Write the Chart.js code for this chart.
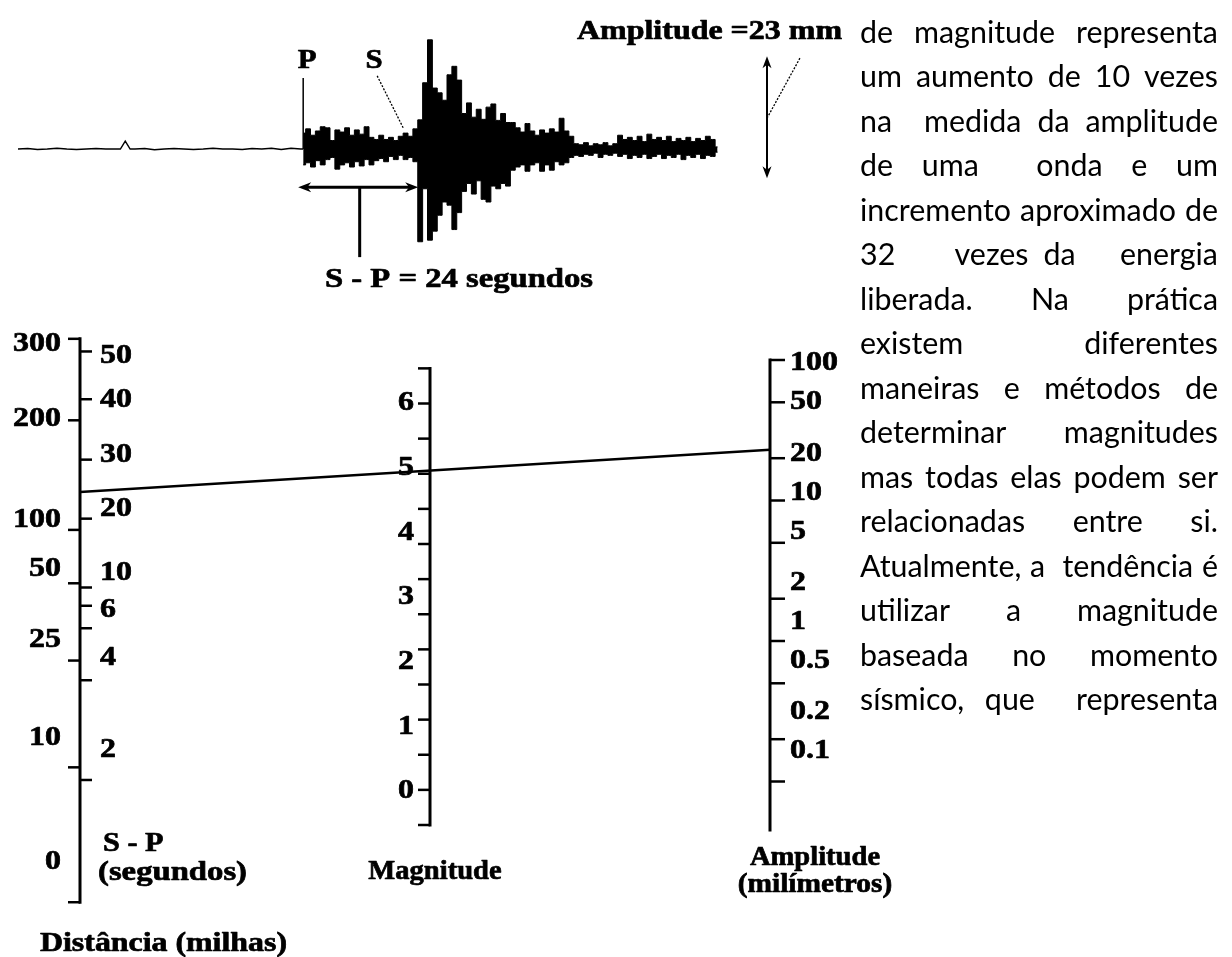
<!DOCTYPE html>
<html>
<head>
<meta charset="utf-8">
<script src="https://cdn.jsdelivr.net/npm/chart.js@4/dist/chart.umd.min.js"></script>
<style>
  html, body { margin: 0; padding: 0; background: #ffffff; }
  #wrap { position: relative; width: 1232px; height: 957px; overflow: hidden; background: #fff; }
  #chart { position: absolute; left: 0; top: 0; }
  #prose { position: absolute; left: 860px; width: 358px; font-family: Lato, "Open Sans", sans-serif; color: #000; }
  #prose .ln { display: flex; justify-content: space-between; white-space: nowrap; }
  #prose .ln span { display: block; }
</style>
</head>
<body>
<div id="wrap">
  <canvas id="chart" width="1232" height="957"></canvas>
  <div id="prose"></div>
</div>
<script>
// ================= DATA =================
// Seismogram: pre-event background trace (seconds from start of record, mm)
const preEventSeconds = [0, 2, 4, 6, 8, 10, 12, 14, 16, 18, 20, 21, 22, 23, 24, 26, 28, 30, 32, 34, 36, 38, 40, 42, 44, 46, 48, 50, 52, 54, 56, 58];
const preEventTraceMM = [0, 0.1, -0.1, 0, 0.15, 0, -0.1, 0, 0.1, 0, 0, 0, 1.5, 0, 0, 0.1, -0.15, 0, 0.1, 0, -0.1, 0, 0.15, 0, 0, -0.1, 0.1, 0, 0.15, -0.1, 0.15, 0];

// Seismogram after the P arrival, one sample per second: upper / lower trace excursion (mm)
const traceUpperMM = [3.0, 3.8, 2.6, 3.4, 4.2, 4.0, 1.6, 3.6, 3.2, 4.0, 2.6, 3.6, 2.8, 4.2, 2.2, 1.8, 2.6, 1.8, 2.2, 1.6,
  2.4, 3.0, 2.4, 3.8, 5.5, 12.5, 20.6, 11.5, 10.6, 9.2, 14.0, 15.6, 13.0, 6.7, 8.7, 6.0, 7.5, 5.6, 7.9, 8.5,
  5.4, 6.7, 5.0, 5.0, 4.0, 3.2, 4.8, 3.4, 2.6, 3.6, 3.0, 3.8, 3.2, 5.8, 3.4, 2.4, 1.0, 0.8, 1.2, 0.6,
  1.0, 0.8, 1.2, 0.6, 1.0, 2.6, 1.8, 2.2, 1.6, 2.4, 1.4, 2.8, 1.8, 2.2, 1.6, 2.4, 1.4, 2.0, 1.6, 2.2,
  1.4, 2.0, 1.6, 2.4, 1.8, 0.4];
const traceLowerMM = [-3.0, -2.6, -3.4, -2.2, -3.0, -2.0, -1.6, -3.8, -3.0, -2.6, -3.4, -2.4, -3.2, -2.0, -3.0, -2.2, -1.8, -2.4, -1.4, -2.0,
  -1.2, -2.0, -1.6, -2.4, -17.5, -7.5, -17.2, -15.5, -12.5, -10.0, -10.6, -15.2, -12.0, -8.0, -6.5, -8.5, -6.0, -9.5, -10.0, -7.0,
  -7.5, -6.5, -7.0, -4.0, -3.4, -3.0, -4.2, -3.0, -2.6, -4.2, -3.0, -4.0, -2.4, -3.0, -2.6, -1.6, -1.2, -1.4, -1.0, -1.2,
  -0.8, -1.6, -1.0, -1.2, -0.8, -1.4, -1.0, -1.8, -1.2, -1.6, -1.0, -1.8, -1.4, -1.0, -1.8, -1.2, -1.6, -1.0, -2.0, -1.2,
  -1.6, -1.0, -1.8, -1.2, -1.4, -0.6];

const pArrivalSeconds = 58.5;
const spIntervalSeconds = 24;
const amplitudeMM = 23;

// Nomogram: left scale (distance in miles and S-P in seconds), position as -log A0
const distanceMiles = [300, 200, 100, 50, 25, 10, 0];
const distanceLogA0 = [4.77, 4.19, 3.41, 3.03, 2.48, 1.72, 0.76];
const spSeconds = [50, 40, 30, 20, 10, 8, 6, 4, 2];
const spLogA0 = [4.68, 4.34, 3.91, 3.49, 3.00, 2.87, 2.71, 2.34, 1.63];
const spLabelledSeconds = [50, 40, 30, 20, 10, 6, 4, 2];

// Magnitude scale
const magnitudeTicks = [0, 0.5, 1, 1.5, 2, 2.5, 3, 3.5, 4, 4.5, 5, 5.5, 6, 6.5];
const magnitudeLabels = [0, 1, 2, 3, 4, 5, 6];

// Amplitude scale (mm, logarithmic)
const amplitudeTicksMM = [100, 50, 20, 10, 5, 2, 1, 0.5, 0.2, 0.1];
const amplitudeAxisRangeMM = [0.044, 100];

// Text column
const proseLines = [
  'de magnitude representa',
  'um aumento de 10 vezes',
  'na  medida da amplitude',
  'de uma  onda e um',
  'incremento aproximado de',
  '32    vezes da   energia',
  'liberada. Na prática',
  'existem diferentes',
  'maneiras e métodos de',
  'determinar magnitudes',
  'mas todas elas podem ser',
  'relacionadas entre si.',
  'Atualmente, a  tendência é',
  'utilizar a magnitude',
  'baseada no momento',
  'sísmico, que  representa'
];

// ================= LAYOUT / STYLE =================
const W = 1232, H = 957;
const INK = '#000000';
const SEIS = { leftPx: 18, pxPerSecond: 4.875, basePx: 149, pxPerMM: 5.3 };
const NOMO = { vZeroPx: 1009, pxPerV: 140.5, mZeroPx: 825, pxPerM: 70.25, aOnePx: 641, pxPerDecade: 140.5 };
const AXIS_X = { left: 80, mag: 430, amp: 770 };
const LABEL_ORIGIN_Y = 400, LABEL_SQUEEZE = 0.92;
const SERIF = '"Liberation Serif", "Times New Roman", serif';

// ================= HELPERS =================
function logInterp(value, values, positions) {
  for (let i = 0; i < values.length - 1; i++) {
    const a = values[i], b = values[i + 1];
    if ((value <= a && value >= b) || (value >= a && value <= b)) {
      const f = (Math.log(value) - Math.log(a)) / (Math.log(b) - Math.log(a));
      return positions[i] + f * (positions[i + 1] - positions[i]);
    }
  }
  return positions[0];
}
function labelY(py) { return LABEL_ORIGIN_Y + LABEL_SQUEEZE * (py - LABEL_ORIGIN_Y); }
function drawText(ctx, str, x, y, o) {
  o = o || {};
  const size = o.size || 28, align = o.align || 'left', stretch = o.stretch || 1.14;
  ctx.save();
  ctx.font = 'bold ' + size + 'px ' + SERIF;
  ctx.textBaseline = 'middle';
  ctx.textAlign = 'left';
  const w = ctx.measureText(str).width;
  const sx = o.width ? o.width / w : stretch;
  const tw = w * sx;
  const left = align === 'left' ? x : (align === 'right' ? x - tw : x - tw / 2);
  ctx.translate(left, y);
  ctx.scale(sx, 1);
  ctx.fillStyle = INK;
  ctx.strokeStyle = INK;
  ctx.lineWidth = 0.7;
  ctx.lineJoin = 'round';
  ctx.fillText(str, 0, 0);
  ctx.strokeText(str, 0, 0);
  ctx.restore();
}
function line(ctx, x1, y1, x2, y2, w, dash) {
  ctx.save();
  ctx.lineWidth = w;
  ctx.strokeStyle = INK;
  if (dash) ctx.setLineDash(dash);
  ctx.beginPath(); ctx.moveTo(x1, y1); ctx.lineTo(x2, y2); ctx.stroke();
  ctx.restore();
}
function arrowHead(ctx, tx, ty, dx, dy, len, half) {
  const nx = -dy, ny = dx;
  ctx.beginPath();
  ctx.moveTo(tx, ty);
  ctx.lineTo(tx - dx * len + nx * half, ty - dy * len + ny * half);
  ctx.lineTo(tx - dx * len * 0.7, ty - dy * len * 0.7);
  ctx.lineTo(tx - dx * len - nx * half, ty - dy * len - ny * half);
  ctx.closePath();
  ctx.fillStyle = INK;
  ctx.fill();
}

// ================= DATASETS =================
const sArrivalSeconds = pArrivalSeconds + spIntervalSeconds;
const traceSeconds = traceUpperMM.map((_, i) => pArrivalSeconds + i);
const preEventPoints = preEventSeconds.map((t, i) => ({ x: t, y: preEventTraceMM[i] }));
preEventPoints.push({ x: pArrivalSeconds, y: 0 });
const upperPoints = traceSeconds.map((t, i) => ({ x: t, y: traceUpperMM[i] }));
const lowerPoints = traceSeconds.map((t, i) => ({ x: t, y: traceLowerMM[i] }));

// ================= ANNOTATION PLUGIN =================
const figurePlugin = {
  id: 'figure',
  afterDatasetsDraw(chart) {
    const ctx = chart.ctx;
    const s = chart.scales;
    const xT = v => s.xT.getPixelForValue(v);
    const yS = v => s.yS.getPixelForValue(v);
    const xN = v => s.xN.getPixelForValue(v);
    const yL = v => s.yL.getPixelForValue(v);
    const yM = v => s.yM.getPixelForValue(v);
    const yA = v => s.yA.getPixelForValue(v);
    ctx.save();

    // ---- seismogram annotations ----
    const xP = xT(pArrivalSeconds), xS = xT(sArrivalSeconds);
    line(ctx, xP, yS(0), xP, yS(13.4), 1.5);
    drawText(ctx, 'P', xP + 4, yS(16.6), { align: 'center', size: 28, stretch: 1.1 });
    drawText(ctx, 'S', xS - 46, yS(16.6), { align: 'center', size: 28, stretch: 1.1 });
    line(ctx, xS - 43, yS(13.8), xS - 17, yS(4.0), 1.3, [2, 1.5]);
    // S-P double arrow
    const yArrow = yS(-7.2);
    const xa1 = xP - 5, xa2 = xS - 2;
    line(ctx, xa1 + 8, yArrow, xa2 - 8, yArrow, 3);
    arrowHead(ctx, xa1, yArrow, -1, 0, 13, 5);
    arrowHead(ctx, xa2, yArrow, 1, 0, 13, 5);
    const xStem = xT((pArrivalSeconds + sArrivalSeconds) / 2) - 2;
    line(ctx, xStem, yArrow, xStem, yS(-20.4), 3);
    drawText(ctx, 'S - P = ' + spIntervalSeconds + ' segundos', 325, 280, { width: 268, size: 28 });
    // amplitude arrow
    const xAmpArrow = 767;
    const ampTop = yS(17.5), ampBot = yS(17.5 - amplitudeMM);
    line(ctx, xAmpArrow, ampTop + 8, xAmpArrow, ampBot - 8, 2);
    arrowHead(ctx, xAmpArrow, ampTop, 0, -1, 12, 4.5);
    arrowHead(ctx, xAmpArrow, ampBot, 0, 1, 12, 4.5);
    line(ctx, xAmpArrow, yS(5.8), 800, 58, 1.3, [2, 1.5]);
    drawText(ctx, 'Amplitude =' + amplitudeMM + ' mm', 577, 32, { width: 265, size: 28 });

    // ---- nomogram: left scale ----
    const xl = xN(AXIS_X.left);
    const lTop = yL(distanceLogA0[0]), lBot = yL(distanceLogA0[distanceLogA0.length - 1]);
    line(ctx, xl, lTop - 1.5, xl, lBot + 1.5, 3);
    distanceMiles.forEach((d, i) => {
      const py = yL(distanceLogA0[i]);
      line(ctx, xl - 12, py, xl, py, 2.5);
      drawText(ctx, String(d), xl - 19, labelY(py), { align: 'right' });
    });
    spSeconds.forEach((sec, i) => {
      const py = yL(spLogA0[i]);
      line(ctx, xl, py, xl + 12, py, 2.5);
      if (spLabelledSeconds.indexOf(sec) >= 0) drawText(ctx, String(sec), xl + 20, labelY(py), { align: 'left' });
    });
    drawText(ctx, 'S - P', xl + 23, 844, { align: 'left', stretch: 1.08 });
    drawText(ctx, '(segundos)', xl + 18, 873, { align: 'left', width: 149 });
    drawText(ctx, 'Distância (milhas)', 40, 944, { align: 'left', width: 247 });

    // ---- magnitude scale ----
    const xm = xN(AXIS_X.mag);
    line(ctx, xm, yM(6.5) - 1.5, xm, yM(0) + 1.5, 3);
    magnitudeTicks.forEach(m => line(ctx, xm - 12, yM(m), xm, yM(m), 2.5));
    magnitudeLabels.forEach(m => drawText(ctx, String(m), xm - 16, labelY(yM(m)), { align: 'right' }));
    drawText(ctx, 'Magnitude', xm + 5, 872, { align: 'center', stretch: 1.02 });

    // ---- amplitude scale ----
    const xa = xN(AXIS_X.amp);
    line(ctx, xa, yA(amplitudeAxisRangeMM[1]) - 1.5, xa, yA(amplitudeAxisRangeMM[0]), 3);
    amplitudeTicksMM.forEach(a => {
      const py = yA(a);
      line(ctx, xa, py, xa + 15, py, 2.5);
      drawText(ctx, String(a), xa + 20, labelY(py), { align: 'left' });
    });
    drawText(ctx, 'Amplitude', xa + 45, 858, { align: 'center', stretch: 1.02 });
    drawText(ctx, '(milímetros)', xa + 45, 885, { align: 'center', stretch: 1.05 });

    // ---- reading line: S-P = 24 s, amplitude = 23 mm ----
    const vReading = logInterp(spIntervalSeconds, spSeconds, spLogA0);
    line(ctx, xl, yL(vReading), xa, yA(amplitudeMM), 2.5);

    ctx.restore();
  }
};

// ================= CHART =================
new Chart(document.getElementById('chart'), {
  type: 'scatter',
  data: {
    datasets: [
      { data: preEventPoints, showLine: true, borderColor: INK, borderWidth: 1.4, pointRadius: 0, xAxisID: 'xT', yAxisID: 'yS', fill: false },
      { data: upperPoints, showLine: true, stepped: 'middle', borderColor: INK, borderWidth: 1, pointRadius: 0, xAxisID: 'xT', yAxisID: 'yS', fill: false },
      { data: lowerPoints, showLine: true, stepped: 'middle', borderColor: INK, borderWidth: 1, pointRadius: 0, xAxisID: 'xT', yAxisID: 'yS', fill: '-1', backgroundColor: INK }
    ]
  },
  options: {
    responsive: false,
    animation: false,
    devicePixelRatio: 1,
    events: [],
    layout: { padding: 0 },
    plugins: { legend: { display: false }, tooltip: { enabled: false }, title: { display: false } },
    scales: {
      xT: { type: 'linear', axis: 'x', position: 'bottom', display: false, bounds: 'data',
            min: -SEIS.leftPx / SEIS.pxPerSecond, max: (W - SEIS.leftPx) / SEIS.pxPerSecond },
      yS: { type: 'linear', axis: 'y', position: 'left', display: false, bounds: 'data',
            min: (SEIS.basePx - H) / SEIS.pxPerMM, max: SEIS.basePx / SEIS.pxPerMM },
      xN: { type: 'linear', axis: 'x', position: 'top', display: false, bounds: 'data', min: 0, max: W },
      yL: { type: 'linear', axis: 'y', position: 'left', display: false, bounds: 'data',
            min: (NOMO.vZeroPx - H) / NOMO.pxPerV, max: NOMO.vZeroPx / NOMO.pxPerV },
      yM: { type: 'linear', axis: 'y', position: 'left', display: false, bounds: 'data',
            min: (NOMO.mZeroPx - H) / NOMO.pxPerM, max: NOMO.mZeroPx / NOMO.pxPerM },
      yA: { type: 'logarithmic', axis: 'y', position: 'right', display: false, bounds: 'data',
            min: Math.pow(10, (NOMO.aOnePx - H) / NOMO.pxPerDecade), max: Math.pow(10, NOMO.aOnePx / NOMO.pxPerDecade) }
    }
  },
  plugins: [figurePlugin]
});

// ================= PROSE =================
(function buildProse() {
  const box = document.getElementById('prose');
  const mctx = document.createElement('canvas').getContext('2d');
  const family = 'Lato, "Open Sans", sans-serif';
  mctx.font = '30px ' + family;
  const ref = Math.max(mctx.measureText('incremento aproximado de').width, mctx.measureText('mas todas elas podem ser').width);
  const fs = Math.floor(30 * 356 / ref * 10) / 10;
  const lh = 44.5;
  box.style.fontSize = fs + 'px';
  box.style.lineHeight = lh + 'px';
  const xCenterFromTop = (lh - 1.2 * fs) / 2 + 0.987 * fs - 0.253 * fs;
  box.style.top = (35 - xCenterFromTop) + 'px';
  proseLines.forEach(t => {
    const d = document.createElement('div');
    d.className = 'ln';
    d.style.height = lh + 'px';
    t.split(' ').forEach(w => {
      const sp = document.createElement('span');
      sp.textContent = w;
      d.appendChild(sp);
    });
    box.appendChild(d);
  });
})();
</script>
</body>
</html>
